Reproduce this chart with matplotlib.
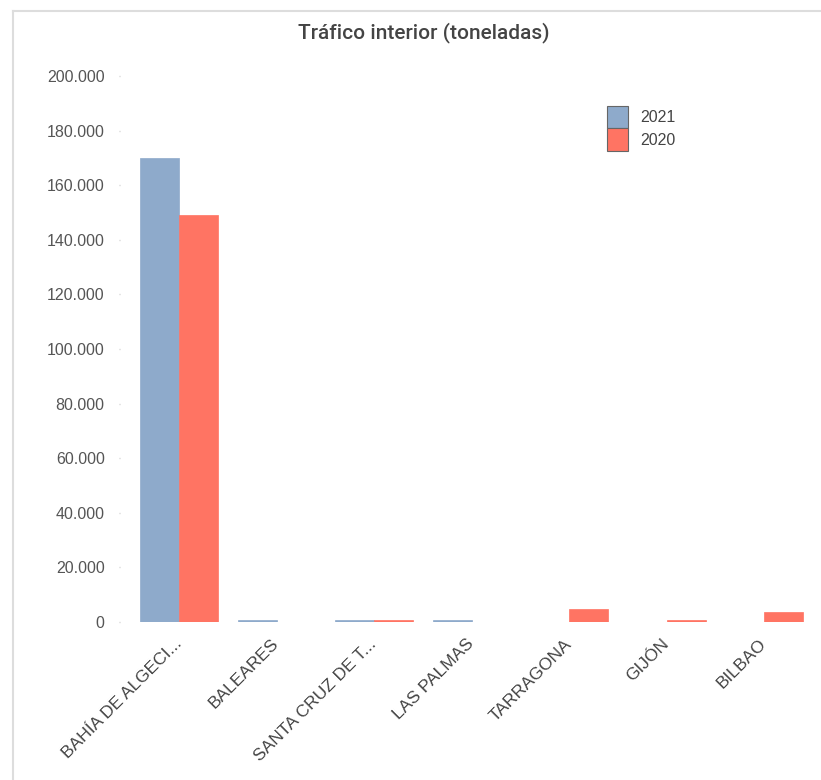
import matplotlib
matplotlib.use("Agg")
import matplotlib.pyplot as plt
import numpy as np
from matplotlib.lines import Line2D
from matplotlib.patches import Patch
from matplotlib.ticker import FuncFormatter

categories = ["BAHÍA DE ALGECI...", "BALEARES", "SANTA CRUZ DE T...", "LAS PALMAS",
              "TARRAGONA", "GIJÓN", "BILBAO"]
values_2021 = [170000, 600, 600, 600, 0, 0, 0]
values_2020 = [149000, 0, 600, 0, 4900, 600, 3700]
series_labels = ["2021", "2020"]
yticks = [0, 20000, 40000, 60000, 80000, 100000, 120000, 140000, 160000, 180000, 200000]

c2021 = "#8eaacb"
c2020 = "#ff7463"

plt.rcParams['font.family'] = ['Liberation Sans', 'DejaVu Sans']

W, H = 821, 780
fig = plt.figure(figsize=(W / 100, H / 100), dpi=100)

left_px, right_px, top_px, bottom_px = 120, 815, 76, 622
ax = fig.add_axes([left_px / W, 1 - bottom_px / H, (right_px - left_px) / W, (bottom_px - top_px) / H])

x = np.arange(len(categories))
bw = 0.4
ax.bar(x - bw / 2, values_2021, width=bw, color=c2021, edgecolor=c2021, align='center', linewidth=0.5)
ax.bar(x + bw / 2, values_2020, width=bw, color=c2020, edgecolor=c2020, align='center', linewidth=0.5)

step = 97.5
ax.set_xlim((left_px - 179) / step, (right_px - 179) / step)
ax.set_ylim(0, 200000)

for s in ax.spines.values():
    s.set_visible(False)

ax.set_yticks(yticks)
ax.yaxis.set_major_formatter(FuncFormatter(lambda v, p: f"{int(v):,}".replace(",", ".")))
ax.tick_params(axis='y', length=1, width=1, color='#cccccc', pad=10, labelsize=11.5, labelcolor='#555555')

ax.set_xticks(x)
ax.set_xticklabels(categories, rotation=45, ha='right', va='center', rotation_mode='anchor')
ax.tick_params(axis='x', length=0, pad=14, labelsize=12.5, labelcolor='#444444')

fig.text(424 / W, 1 - 33 / H, "Tráfico interior (toneladas)", ha='center', va='center',
         fontsize=15, color='#444444', fontweight='medium',
         family=['Roboto', 'DejaVu Sans'])

handles = [Patch(facecolor=c2021, edgecolor='#666666', linewidth=0.8),
           Patch(facecolor=c2020, edgecolor='#666666', linewidth=0.8)]
fig.legend(handles, series_labels, loc='upper left', bbox_to_anchor=(607 / W, 1 - 106 / H),
           frameon=False, borderpad=0, borderaxespad=0, labelspacing=0,
           handlelength=1.31, handleheight=1.79, handletextpad=0.75, fontsize=11.5,
           labelcolor='#444444')

fig.add_artist(Line2D([13 / W, 1], [1 - 11 / H, 1 - 11 / H], transform=fig.transFigure,
                      color='#dddddd', linewidth=1.5))
fig.add_artist(Line2D([13 / W, 13 / W], [0, 1 - 11 / H], transform=fig.transFigure,
                      color='#dddddd', linewidth=1.5))

fig.savefig("out.png", dpi=100, facecolor='white')
